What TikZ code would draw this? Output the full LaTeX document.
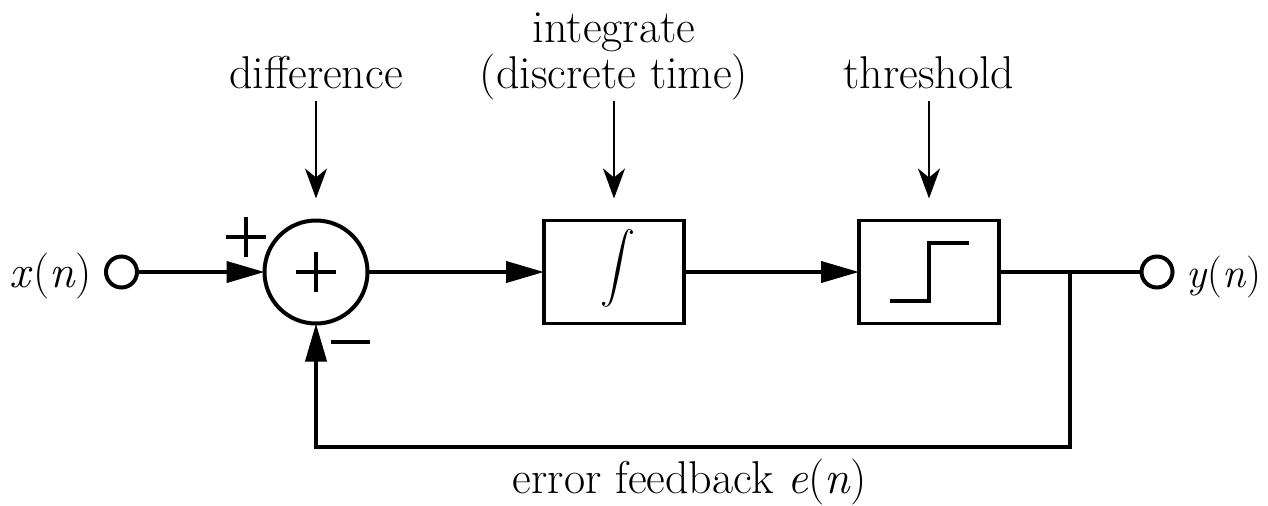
\documentclass[tikz,border=0pt]{standalone}
\usepackage{fontspec}
\usetikzlibrary{arrows.meta,calc}
\tikzset{
  every node/.style={inner sep=0pt, outer sep=0pt},
  lbl/.style={font=\fontsize{23}{23}\selectfont, anchor=base},
  block/.style={draw, line width=1.8pt, minimum width=70pt, minimum height=51.5pt},
  junction/.style={draw, circle, line width=2pt, minimum size=51.5pt},
  port/.style={draw, circle, line width=2pt, minimum size=15.5pt},
  signal/.style={line width=2pt},
  flow/.style={signal, -{Triangle[length=19pt,width=10.5pt]}},
  pointer/.style={line width=1pt, -{Stealth[length=15pt,width=11pt,inset=4.5pt]}},
  sign/.style={line width=2.2pt},
}
\begin{document}
\begin{tikzpicture}[x=0.5pt,y=-0.5pt]
\useasboundingbox (0,0) rectangle (1268,505);

% blocks and terminals
\node[port] (in) at (121.5,272) {};
\node[junction] (sum) at (316,272) {};
\node[block] (int) at (614,272) {};
\node[block] (thr) at (929,272) {};
\node[port] (out) at (1157,272) {};
\coordinate (branch) at (1070,272);
\coordinate (fb) at (1070,447);

% block contents
\node (intsym) at ($(int)+(4,-4)$) {\scalebox{1.75}{$\displaystyle\int$}};
\draw[signal] ($(thr)+(-39,29)$) -- ++(39,0) -- ++(0,-58) -- ++(40,0);
\draw[sign] ($(sum)+(-20,0)$) -- ++(40,0);
\draw[sign] ($(sum)+(0,-20)$) -- ++(0,40);

% input signs of the summing junction
\draw[sign] ($(sum)+(-90,-35)$) -- ++(40,0);
\draw[sign] ($(sum)+(-70,-55)$) -- ++(0,40);
\draw[sign] ($(sum)+(15,70)$) -- ++(39,0);

% labels
\node[lbl] (difl) at (316,88) {difference};
\node[lbl] (intl1) at (614,42) {integrate};
\node[lbl] (intl2) at (614,88) {(discrete time)};
\node[lbl] (thrl) at (929,88) {threshold};
\node[lbl, anchor=base east] (xl) at (92,287) {\textit{x}(\textit{n})};
\node[lbl, anchor=base west, font=\fontsize{21}{21}\selectfont] (yl) at (1186,287) {\textit{y}(\textit{n})};
\node[lbl] (el) at (690,493) {error feedback \textit{e}(\textit{n})};

% label pointers
\draw[pointer] ([yshift=-6.5pt]difl.base) -- ([yshift=11pt]sum.north);
\draw[pointer] ([yshift=-6.5pt]intl2.base) -- ([yshift=11pt]int.north);
\draw[pointer] ([yshift=-6.5pt]thrl.base) -- ([yshift=11pt]thr.north);

% signal path
\draw[flow] (in) -- (sum);
\draw[flow] (sum) -- (int);
\draw[flow] (int) -- (thr);
\draw[signal] (thr) -- (out);
\draw[flow] (branch) -- (fb) -| (sum);
\end{tikzpicture}
\end{document}
